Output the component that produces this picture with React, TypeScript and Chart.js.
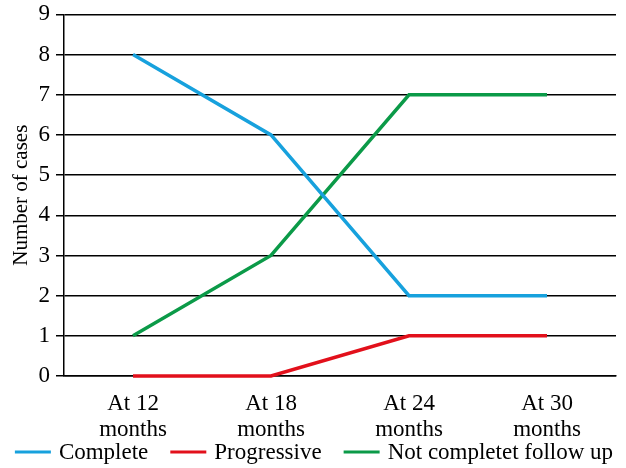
import { useEffect, useRef } from "react";
import { Chart, ChartConfiguration, Plugin, registerables } from "chart.js";

Chart.register(...registerables);

const categories = [["At 12", "months"], ["At 18", "months"], ["At 24", "months"], ["At 30", "months"]];
const complete = [8, 6, 2, 2];
const progressive = [0, 0, 1, 1];
const notCompleted = [1, 3, 7, 7];

const FONT = "'Liberation Serif', 'DejaVu Serif', serif";

// bottom legend drawn by hand: the built-in one ties item spacing to its height
const bottomLegend: Plugin = {
  id: "bottomLegend",
  afterDraw(chart) {
    const { ctx } = chart;
    const lineW = 36;
    const gap = 8;
    const itemGap = 22;
    ctx.save();
    ctx.font = `23px ${FONT}`;
    const items = chart.data.datasets.map((ds) => ({
      text: String(ds.label),
      color: String(ds.borderColor),
      w: ctx.measureText(String(ds.label)).width,
    }));
    const total = items.reduce((s, it) => s + lineW + gap + it.w, 0) + itemGap * (items.length - 1);
    let x = chart.width / 2 + 1 - total / 2;
    const y = 452;
    ctx.textBaseline = "middle";
    ctx.textAlign = "left";
    for (const it of items) {
      ctx.strokeStyle = it.color;
      ctx.lineWidth = 3;
      ctx.beginPath();
      ctx.moveTo(x, y);
      ctx.lineTo(x + lineW, y);
      ctx.stroke();
      ctx.fillStyle = "#000";
      ctx.fillText(it.text, x + lineW + gap, y + 1);
      x += lineW + gap + it.w + itemGap;
    }
    ctx.restore();
  },
};

export default function App() {
  const canvasRef = useRef<HTMLCanvasElement>(null);
  const chartRef = useRef<Chart | null>(null);

  useEffect(() => {
    if (!canvasRef.current) return;
    const ctx = canvasRef.current.getContext("2d");
    if (!ctx) return;

    if (chartRef.current) {
      chartRef.current.destroy();
    }

    const config: ChartConfiguration = {
      type: "line",
      data: {
        labels: categories,
        datasets: [
          { label: "Complete", data: complete, borderColor: "#17a1dd", backgroundColor: "#17a1dd" },
          { label: "Progressive", data: progressive, borderColor: "#e2101b", backgroundColor: "#e2101b" },
          { label: "Not completet follow up", data: notCompleted, borderColor: "#0b9a48", backgroundColor: "#0b9a48" },
        ].map((d) => ({ ...d, borderWidth: 3.5, pointRadius: 0, tension: 0, fill: false, clip: false as const })),
      },
      options: {
        animation: false,
        responsive: false,
        maintainAspectRatio: false,
        layout: { padding: { top: 0, right: 10, left: 0, bottom: 10 } },
        plugins: {
          tooltip: { enabled: false },
          legend: { display: false },
        },
        scales: {
          x: {
            offset: true,
            grid: {
              offset: true,
              drawTicks: false,
              lineWidth: 1.5,
              color: (c) => (c.index === 4 ? "#000" : "rgba(0,0,0,0)"),
            },
            border: { display: true, color: "#000", width: 1.5 },
            ticks: {
              color: "#000",
              padding: 15,
              maxRotation: 0,
              font: { size: 23, family: FONT, lineHeight: 1.13 },
            },
          },
          y: {
            min: 0,
            max: 9,
            afterFit: (s) => {
              s.width = 64;
            },
            grid: { color: "#000", lineWidth: 1.5, tickLength: 8 },
            border: { display: true, color: "#000", width: 1.5 },
            ticks: {
              stepSize: 1,
              color: "#000",
              padding: 6,
              font: { size: 23, family: FONT, lineHeight: 0.73 },
            },
            title: {
              display: true,
              text: "Number of cases",
              color: "#000",
              padding: { top: 9, bottom: 0 },
              font: { size: 21, family: FONT },
            },
          },
        },
      },
      plugins: [bottomLegend],
    };

    chartRef.current = new Chart(ctx, config);

    return () => {
      if (chartRef.current) {
        chartRef.current.destroy();
      }
    };
  }, []);

  return (
    <div style={{ position: "absolute", left: 0, top: 0, width: 626, height: 468, background: "#fff" }}>
      <canvas ref={canvasRef} width={626} height={468}></canvas>
    </div>
  );
}
